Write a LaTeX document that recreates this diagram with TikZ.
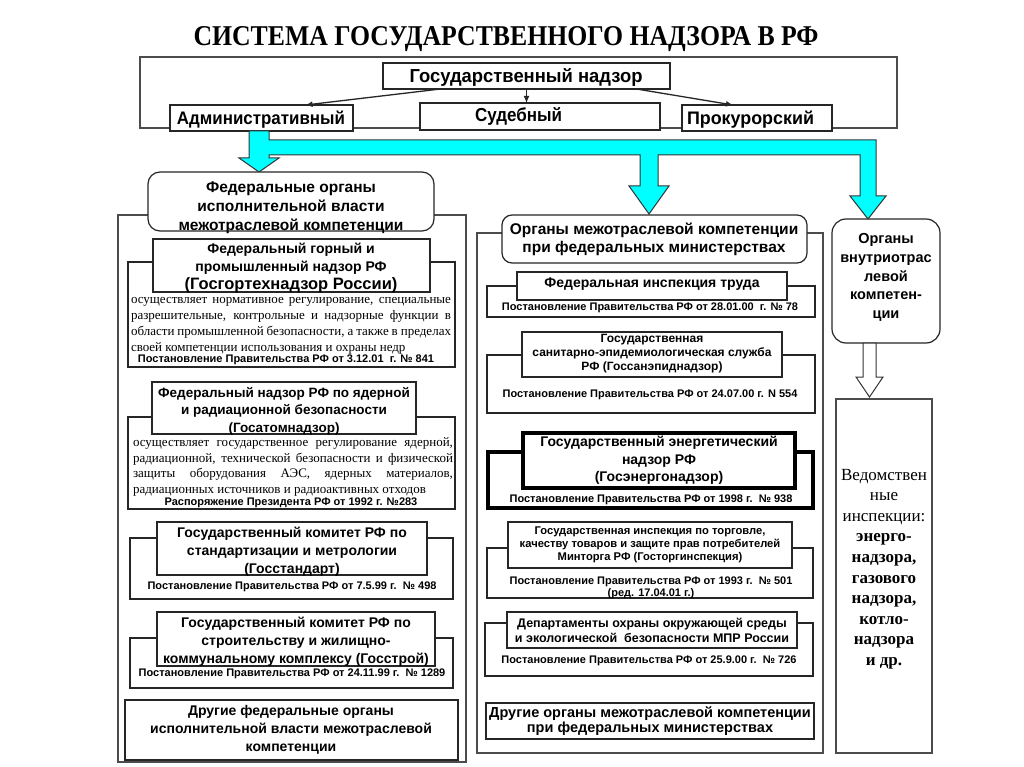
\documentclass[tikz,border=0pt]{standalone}
\usepackage{fontspec}
\usepackage{graphicx}
\setmainfont{Liberation Sans}
\newfontfamily\serifrm{Liberation Serif}
\usetikzlibrary{arrows.meta}
\definecolor{cy}{RGB}{0,255,255}
\newcommand\rb[6]{\node[#1, inner sep=0pt, outer sep=0pt, minimum width={(#5-#3)*1pt}, minimum height={(#6-#4)*1pt}] (#2) at ({(#3+#5)/2},{(#4+#6)/2}) {};}
\newcommand\fs[2]{\fontsize{#1}{#2}\selectfont}
\newcommand\jl[1]{\makebox[320pt][s]{#1}}
\tikzset{
  frame/.style={draw=black!70, line width=1.2pt},
  wbox/.style={draw=black!85, fill=white, line width=1.2pt},
  thickbox/.style={draw=black, fill=white, line width=3.5pt},
  t/.style={inner sep=0pt, align=center, font=\bfseries\fs{14}{18}},
  post/.style={inner sep=0pt, align=center, font=\bfseries\fs{11}{12}},
  desc/.style={inner sep=0pt, align=left, font=\serifrm\fs{13}{16}},
  arr/.style={-{Latex[length=7pt,width=6pt]}, line width=1.3pt, draw=black!85},
  cyanarrow/.style={fill=cy, draw=black!80, line width=1pt, line join=miter},
  whitearrow/.style={fill=white, draw=black!80, line width=1pt},
}
\begin{document}
\begin{tikzpicture}[x=1pt,y=-1pt]
\useasboundingbox[fill=white] (0,0) rectangle (1024,767);
% title
\node[inner sep=0pt, anchor=base] (title) at (506,46) {\resizebox{625pt}{19pt}{\serifrm\bfseries СИСТЕМА ГОСУДАРСТВЕННОГО НАДЗОРА В РФ}};
% top block
\rb{frame}{topframe}{140}{57}{897}{128}
\rb{wbox}{gn}{383}{63}{670}{89}
\node[inner sep=0pt, anchor=base] (gnt) at (526,83) {\resizebox{233pt}{14pt}{\bfseries Государственный надзор}};
\rb{wbox}{adm}{170}{105}{353}{131}
\node[inner sep=0pt, anchor=base] (admt) at (261,124.5) {\resizebox{168pt}{13.5pt}{\bfseries Административный}};
\rb{wbox}{sud}{420}{103}{660}{130}
\node[inner sep=0pt, anchor=base] (sudt) at (518.5,122) {\resizebox{87pt}{14pt}{\bfseries Судебный}};
\rb{wbox}{prok}{682}{105}{832}{131}
\node[inner sep=0pt, anchor=base] (prokt) at (750.5,124.5) {\resizebox{127pt}{13.5pt}{\bfseries Прокурорский}};
\draw[arr] ([xshift=-86pt]gn.south) -- ([xshift=44pt]adm.north);
\draw[arr] (gn.south) -- (gn.south |- sud.north);
\draw[arr] ([xshift=110pt]gn.south) -- ([xshift=-24pt]prok.north);
% cyan distribution arrows
\draw[cyanarrow] (249,131) -- (269,131) -- (269,140) -- (876,140) -- (876,196) -- (886,196) -- (868,219) -- (850,196) -- (860,196) -- (860,155) -- (658,155) -- (658,186) -- (669,186) -- (649,214) -- (629,186) -- (640,186) -- (640,155) -- (269,155) -- (269,158) -- (279,158) -- (259,172) -- (239,158) -- (249,158) -- cycle;
% left column
\rb{frame}{lframe}{118}{215}{466}{762}
\rb{wbox,rounded corners=12pt}{fed}{148}{172}{434}{231}
\node[t, font=\bfseries\fs{15.5}{19}] (fedt) at (291,208) {Федеральные органы\\исполнительной власти\\межотраслевой компетенции};
% item 1
\rb{wbox}{o1}{128}{262}{455}{367}
\rb{wbox}{h1}{153}{239}{430}{292}
\node[t] (h1t) at (291,268) {Федеральный горный и\\промышленный надзор РФ\\{\fs{16.5}{18}(Госгортехнадзор России)}};
\node[desc] (d1) at (291,326) {\jl{осуществляет нормативное регулирование, специальные}\\\jl{разрешительные, контрольные и надзорные функции в}\\\jl{области промышленной безопасности, а также в пределах}\\своей компетенции использования и охраны недр};
\node[post] (p1) at (286,360) {Постановление Правительства РФ от 3.12.01\ \ г. № 841};
% item 2
\rb{wbox}{o2}{128}{417}{455}{509}
\rb{wbox}{h2}{152}{382}{416}{434}
\node[t, font=\bfseries\fs{13.5}{17.5}] (h2t) at (284,411) {Федеральный надзор РФ по ядерной\\и радиационной безопасности\\(Госатомнадзор)};
\node[desc, font=\serifrm\fs{13}{15.5}] (d2) at (293,467) {\jl{осуществляет государственное регулирование ядерной,}\\\jl{радиационной, технической безопасности и физической}\\\jl{защиты оборудования АЭС, ядерных материалов,}\\радиационных источников и радиоактивных отходов};
\node[post] (p2) at (291,503) {Распоряжение Президента РФ от 1992 г. №283};
% item 3
\rb{wbox}{o3}{130}{538}{453}{599}
\rb{wbox}{h3}{157}{522}{427}{575}
\node[t] (h3t) at (292,551.5) {Государственный комитет РФ по\\стандартизации и метрологии\\(Госстандарт)};
\node[post] (p3) at (292,587) {Постановление Правительства РФ от 7.5.99 г.\ \ № 498};
% item 4
\rb{wbox}{o4}{130}{638}{453}{688}
\rb{wbox}{h4}{157}{612}{435}{666}
\node[t] (h4t) at (296,641.5) {Государственный комитет РФ по\\строительству и жилищно-\\коммунальному комплексу (Госстрой)};
\node[post] (p4) at (292,674) {Постановление Правительства РФ от 24.11.99 г.\ \ № 1289};
% other
\rb{wbox}{oth}{125}{700}{458}{760}
\node[t] (otht) at (291,730) {Другие федеральные органы\\исполнительной власти межотраслевой\\компетенции};
% middle column
\rb{frame}{mframe}{477}{233}{823}{753}
\rb{wbox,rounded corners=10pt}{mid}{502}{215}{807}{263}
\node[t, font=\bfseries\fs{15.5}{18}] (midt) at (654,239) {Органы межотраслевой компетенции\\при федеральных министерствах};
\rb{wbox}{o5}{487}{286}{815}{317}
\rb{wbox}{h5}{517}{272}{787}{300}
\node[t] (h5t) at (652,284) {Федеральная инспекция труда};
\node[post] (p5) at (650,308) {Постановление Правительства РФ от 28.01.00\ \ г. № 78};
\rb{wbox}{o6}{487}{355}{815}{413}
\rb{wbox}{h6}{522}{332}{782}{377}
\node[t, font=\bfseries\fs{12}{14}] (h6t) at (652,354) {Государственная\\санитарно-эпидемиологическая служба\\РФ (Госсанэпиднадзор)};
\node[post] (p6) at (650,395) {Постановление Правительства РФ от 24.07.00 г. N 554};
\rb{thickbox}{o7}{488}{452}{813}{508}
\rb{thickbox}{h7}{523}{433}{795}{488}
\node[t, font=\bfseries\fs{14}{17.5}] (h7t) at (659,460.5) {Государственный энергетический\\надзор РФ\\(Госэнергонадзор)};
\node[post] (p7) at (651,500) {Постановление Правительства РФ от 1998 г.\ \ № 938};
\rb{wbox}{o8}{487}{548}{813}{598}
\rb{wbox}{h8}{508}{522}{792}{568}
\node[t, font=\bfseries\fs{11.2}{13}] (h8t) at (650,545) {Государственная инспекция по торговле,\\качеству товаров и защите прав потребителей\\Минторга РФ (Госторгинспекция)};
\node[post] (p8) at (651,588) {Постановление Правительства РФ от 1993 г.\ \ № 501\\(ред. 17.04.01 г.)};
\rb{wbox}{o9}{485}{623}{813}{676}
\rb{wbox}{h9}{507}{612}{797}{648}
\node[t, font=\bfseries\fs{12.5}{15}] (h9t) at (652,630.5) {Департаменты охраны окружающей среды\\и экологической\ \ безопасности МПР России};
\node[post] (p9) at (649,661) {Постановление Правительства РФ от 25.9.00 г.\ \ № 726};
\rb{wbox}{oth2}{486}{703}{814}{739}
\node[t, font=\bfseries\fs{14.5}{15.5}] (oth2t) at (650,721) {Другие органы межотраслевой компетенции\\при федеральных министерствах};
% right column
\rb{wbox,rounded corners=14pt}{intra}{832}{219}{940}{343}
\node[t, font=\bfseries\fs{14.5}{18.7}] (intrat) at (886,277.5) {Органы\\внутриотрас\\левой\\компетен-\\ции};
\rb{frame}{ved}{836}{399}{932}{753}
\draw[whitearrow] (863,343) -- (876,343) -- (876,377) -- (883,377) -- (869.5,397) -- (856,377) -- (863,377) -- cycle;
\node[inner sep=0pt, align=center, font=\serifrm\fs{17}{20.6}] (vedt) at (884,569) {Ведомствен\\ные\\инспекции:\\\textbf{энерго-}\\\textbf{надзора,}\\\textbf{газового}\\\textbf{надзора,}\\\textbf{котло-}\\\textbf{надзора}\\\textbf{и др.}};
\end{tikzpicture}
\end{document}
